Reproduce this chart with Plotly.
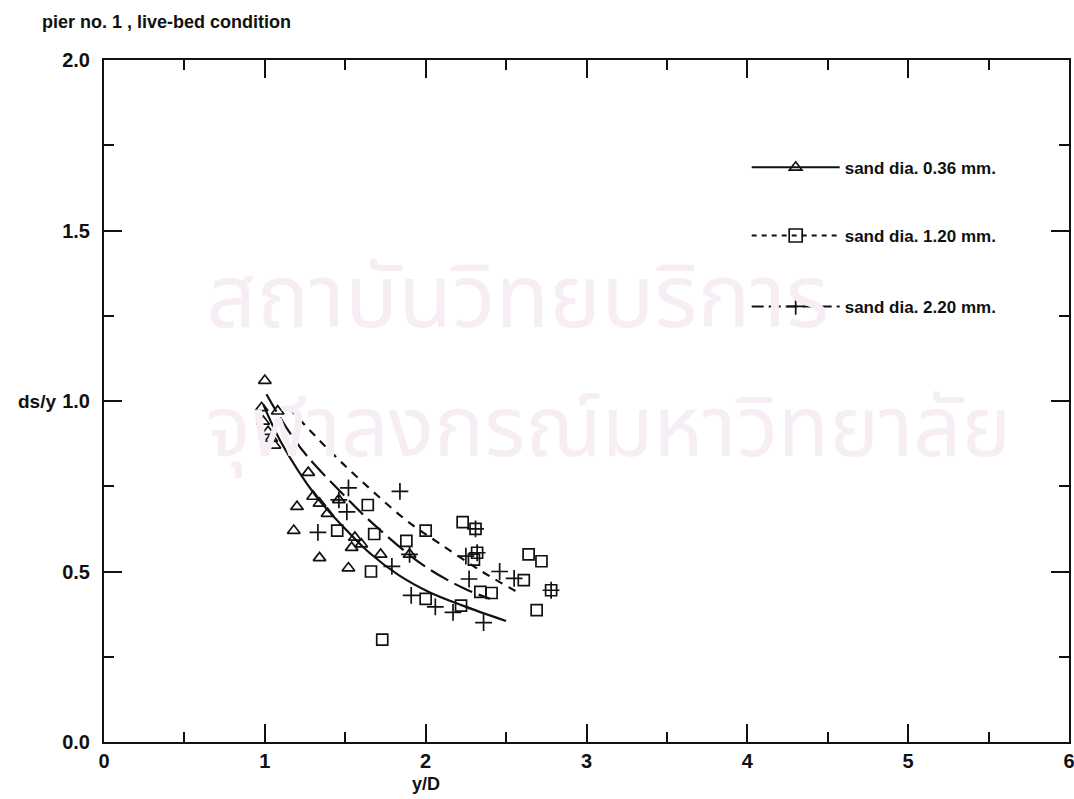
import plotly.graph_objects as go

# ---------------- data ----------------
# scatter points
tri_x = [1.00, 0.98, 0.99, 1.02, 1.04, 1.06, 1.08, 1.27, 1.20, 1.18, 1.30, 1.34, 1.39,
         1.34, 1.46, 1.56, 1.54, 1.52, 1.72, 1.90, 1.60]
tri_y = [1.06, 0.98, 0.94, 0.91, 0.89, 0.87, 0.97, 0.79, 0.69, 0.62, 0.72, 0.70, 0.67,
         0.54, 0.71, 0.60, 0.57, 0.51, 0.55, 0.55, 0.58]

sq_x = [1.45, 1.64, 1.68, 1.66, 1.73, 1.88, 2.00, 2.00, 2.23, 2.22, 2.31, 2.32, 2.30,
        2.34, 2.41, 2.61, 2.64, 2.72, 2.69, 2.78]
sq_y = [0.62, 0.695, 0.61, 0.50, 0.30, 0.59, 0.62, 0.42, 0.645, 0.40, 0.625, 0.555, 0.535,
        0.44, 0.437, 0.475, 0.55, 0.53, 0.387, 0.445]

pl_x = [1.33, 1.46, 1.51, 1.52, 1.79, 1.84, 1.90, 1.91, 2.06, 2.17, 2.25, 2.27, 2.31,
        2.32, 2.36, 2.46, 2.55, 2.78]
pl_y = [0.615, 0.71, 0.675, 0.745, 0.515, 0.735, 0.55, 0.43, 0.396, 0.38, 0.545, 0.478, 0.625,
        0.555, 0.35, 0.50, 0.48, 0.445]

# fitted curves, read at points along each line
c036_x = [0.99, 1.10, 1.32, 1.50, 1.65, 1.83, 2.02, 2.23, 2.50]
c036_y = [0.99, 0.88, 0.72, 0.625, 0.555, 0.49, 0.44, 0.40, 0.355]

c120_x = [1.15, 1.38, 1.59, 1.88, 2.08, 2.35, 2.58]
c120_y = [0.98, 0.865, 0.77, 0.65, 0.584, 0.50, 0.437]

c220_x = [1.01, 1.13, 1.26, 1.51, 1.65, 1.98, 2.24, 2.40]
c220_y = [1.02, 0.925, 0.84, 0.715, 0.65, 0.52, 0.45, 0.42]

series_names = ["sand dia. 0.36 mm.", "sand dia. 1.20 mm.", "sand dia. 2.20 mm."]

title_text = "pier no. 1 , live-bed condition"
x_title = "y/D"
y_title = "ds/y"
x_ticks = [0, 1, 2, 3, 4, 5, 6]
y_ticks = [0.0, 0.5, 1.0, 1.5, 2.0]
watermark_lines = ["สถาบันวิทยบริการ", "จุฬาลงกรณ์มหาวิทยาลัย"]

# ---------------- figure ----------------
FONT = "Liberation Sans, Arial, sans-serif"
BLACK = "#111111"
WM = "#f6edf5"

fig = go.Figure()

# faint watermark
fig.add_annotation(text=watermark_lines[0], xref="paper", yref="paper", x=0.104, y=0.648,
                   xanchor="left", yanchor="middle", showarrow=False,
                   font=dict(size=88, color=WM, family="Noto Sans Thai, DejaVu Sans, sans-serif"))
fig.add_annotation(text=watermark_lines[1], xref="paper", yref="paper", x=0.104, y=0.457,
                   xanchor="left", yanchor="middle", showarrow=False,
                   font=dict(size=84, color=WM, family="Noto Sans Thai, DejaVu Sans, sans-serif"))

line_w = 2.2
fig.add_trace(go.Scatter(x=c036_x, y=c036_y, mode="lines", line=dict(color=BLACK, width=line_w, shape="spline"),
                         showlegend=False, hoverinfo="skip"))
fig.add_trace(go.Scatter(x=c120_x, y=c120_y, mode="lines",
                         line=dict(color=BLACK, width=line_w, shape="spline", dash="8px,7px"),
                         showlegend=False, hoverinfo="skip"))
fig.add_trace(go.Scatter(x=c220_x, y=c220_y, mode="lines",
                         line=dict(color=BLACK, width=line_w, shape="spline", dash="20px,7px"),
                         showlegend=False, hoverinfo="skip"))

mk_line = dict(color=BLACK, width=1.7)
fig.add_trace(go.Scatter(x=tri_x, y=tri_y, mode="markers", showlegend=False,
                         marker=dict(symbol="triangle-up-open", size=11, color=BLACK, line=mk_line)))
fig.add_trace(go.Scatter(x=sq_x, y=sq_y, mode="markers", showlegend=False,
                         marker=dict(symbol="square-open", size=11, color=BLACK, line=mk_line)))
fig.add_trace(go.Scatter(x=pl_x, y=pl_y, mode="markers", showlegend=False,
                         marker=dict(symbol="cross-thin-open", size=12, color=BLACK, line=mk_line)))

# legend-only entries
leg_styles = [
    dict(line=dict(color=BLACK, width=2), marker=dict(symbol="triangle-up-open", size=11, color=BLACK, line=mk_line)),
    dict(line=dict(color=BLACK, width=2, dash="5px,5px"), marker=dict(symbol="square-open", size=13, color=BLACK, line=mk_line)),
    dict(line=dict(color=BLACK, width=2, dash="12px,5px"), marker=dict(symbol="cross-thin-open", size=12, color=BLACK, line=mk_line)),
]
leg_ids = ["legend", "legend2", "legend3"]
for name, st, lid in zip(series_names, leg_styles, leg_ids):
    fig.add_trace(go.Scatter(x=[None], y=[None], mode="lines+markers", name="<b>" + name + "</b>",
                             legend=lid, **st))

leg_common = dict(xanchor="left", yanchor="middle", bgcolor="rgba(0,0,0,0)", borderwidth=0,
                  font=dict(family=FONT, size=17, color=BLACK), itemwidth=88)
fig.update_layout(
    legend=dict(x=0.666, y=0.842, **leg_common),
    legend2=dict(x=0.666, y=0.742, **leg_common),
    legend3=dict(x=0.666, y=0.638, **leg_common),
)

tick_font = dict(family=FONT, size=20, color=BLACK, weight="bold")
axis_common = dict(showgrid=False, zeroline=False, showline=True, linecolor=BLACK, linewidth=2,
                   mirror="allticks", ticks="inside", ticklen=18, tickwidth=2, tickcolor=BLACK,
                   tickfont=tick_font, automargin=False, ticklabeloverflow="allow")
fig.update_xaxes(range=[0, 6], tickvals=x_ticks, ticktext=[str(v) for v in x_ticks],
                 minor=dict(dtick=0.5, ticks="inside", ticklen=10, tickwidth=2, tickcolor=BLACK),
                 ticklabelstandoff=0,
                 **axis_common)
fig.update_yaxes(range=[0, 2], tickvals=y_ticks, ticktext=[f"{v:.1f}" for v in y_ticks],
                 minor=dict(dtick=0.25, ticks="inside", ticklen=10, tickwidth=2, tickcolor=BLACK),
                 ticklabelstandoff=8,
                 **axis_common)

fig.add_annotation(text="<b>" + x_title + "</b>", xref="x", yref="paper", x=2.0, y=-0.061,
                   xanchor="center", yanchor="middle", showarrow=False,
                   font=dict(family=FONT, size=18, color=BLACK))
fig.add_annotation(text="<b>" + y_title + "</b>", xref="paper", yref="y", x=-0.048, y=1.0,
                   xanchor="right", yanchor="middle", showarrow=False,
                   font=dict(family=FONT, size=19, color=BLACK))
fig.add_annotation(text="<b>" + title_text + "</b>", xref="paper", yref="paper", x=-0.066, y=1.056,
                   xanchor="left", yanchor="middle", showarrow=False,
                   font=dict(family=FONT, size=18, color=BLACK))

fig.update_layout(
    width=1074, height=799,
    margin=dict(l=104, r=5, t=60, b=57),
    paper_bgcolor="white", plot_bgcolor="white",
    font=dict(family=FONT, color=BLACK),
)

fig.write_html("out.html", config={"displayModeBar": False},
               post_script="document.body.style.margin='0px';document.body.style.overflow='hidden';")
